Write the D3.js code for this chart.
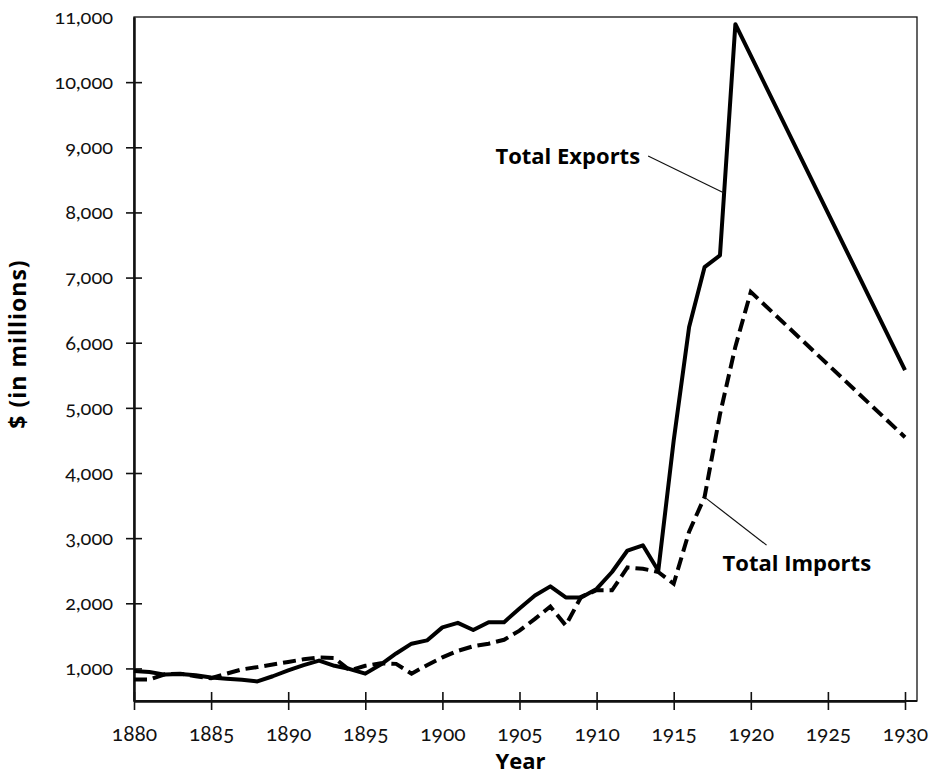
<!DOCTYPE html>
<html>
<head>
<meta charset="utf-8">
<script src="https://cdn.jsdelivr.net/npm/d3@7"></script>
<style>
  body { margin: 0; background: #fff; }
  .tick text { font-family: Lato, "Open Sans", sans-serif; font-variant-numeric: oldstyle-nums; font-feature-settings: "onum" 1; }
</style>
</head>
<body>
<svg id="chart"></svg>
<script>
// US total exports / imports, $ millions
const exportYears = [1880, 1881, 1882, 1883, 1884, 1885, 1886, 1887, 1888, 1889,
  1890, 1891, 1892, 1893, 1894, 1895, 1896, 1897, 1898, 1899,
  1900, 1901, 1902, 1903, 1904, 1905, 1906, 1907, 1908, 1909,
  1910, 1911, 1912, 1913, 1914, 1915, 1916, 1917, 1918, 1919, 1930];
const exportValues = [960, 945, 905, 915, 895, 860, 840, 825, 800, 880,
  970, 1050, 1120, 1040, 990, 920, 1060, 1230, 1380, 1430,
  1630, 1700, 1590, 1710, 1710, 1920, 2120, 2260, 2090, 2090,
  2220, 2480, 2810, 2890, 2500, 4500, 6240, 7160, 7340, 10890, 5580];

const importYears = [1880, 1881, 1882, 1883, 1884, 1885, 1886, 1887, 1888, 1889,
  1890, 1891, 1892, 1893, 1894, 1895, 1896, 1897, 1898, 1899,
  1900, 1901, 1902, 1903, 1904, 1905, 1906, 1907, 1908, 1909,
  1910, 1911, 1912, 1913, 1914, 1915, 1916, 1917, 1918, 1919, 1920, 1930];
const importValues = [830, 830, 910, 920, 880, 850, 920, 985, 1020, 1060,
  1100, 1140, 1170, 1160, 970, 1040, 1080, 1070, 920, 1050,
  1170, 1270, 1340, 1380, 1440, 1580, 1760, 1950, 1660, 2100,
  2200, 2200, 2550, 2530, 2480, 2300, 3100, 3630, 4900, 5940, 6780, 4550];

const xTicks = [1880, 1885, 1890, 1895, 1900, 1905, 1910, 1915, 1920, 1925, 1930];
const yTicks = [1000, 2000, 3000, 4000, 5000, 6000, 7000, 8000, 9000, 10000, 11000];

const margin = { top: 17, right: 15, bottom: 75, left: 134 };
const width = 931 - margin.left - margin.right;
const height = 776 - margin.top - margin.bottom;
const plotRight = 771; // where 1930 falls

const svg = d3.select('#chart')
  .attr('width', 931)
  .attr('height', 776)
  .append('g')
    .attr('transform', `translate(${margin.left},${margin.top})`);

const x = d3.scaleLinear().domain([1880, 1930]).range([0, plotRight]);
const y = d3.scaleLinear().domain([500, 11000]).range([height, 0]);

// frame (top + right edges)
svg.append('rect')
  .attr('x', 0).attr('y', 0)
  .attr('width', width + 1).attr('height', height)
  .attr('fill', 'none')
  .attr('stroke', '#111')
  .attr('stroke-width', 1.3);

// y axis: labels outside, ticks cross the line
const yAxis = svg.append('g')
  .call(d3.axisLeft(y).tickValues(yTicks).tickSize(8).tickSizeOuter(0)
    .tickFormat(d3.format(',')));
yAxis.call(g => g.selectAll('.tick').filter(d => d === 11000).select('line').remove());
svg.append('g')
  .call(d3.axisRight(y).tickValues(yTicks.slice(0, -1)).tickSize(8).tickSizeOuter(0).tickFormat(''));

const xAxis = svg.append('g')
  .attr('transform', `translate(0,${height})`)
  .call(d3.axisBottom(x).tickValues(xTicks).tickSize(9).tickSizeOuter(0).tickFormat(d3.format('d')));
svg.append('g')
  .attr('transform', `translate(0,${height})`)
  .call(d3.axisTop(x).tickValues(xTicks).tickSize(9).tickSizeOuter(0).tickFormat(''));

svg.selectAll('.domain').attr('stroke', '#111').attr('stroke-width', 2);
svg.selectAll('.tick line').attr('stroke', '#111').attr('stroke-width', 1.6);
yAxis.selectAll('.tick text')
  .attr('x', -21)
  .style('font-size', '20px')
  .attr('fill', '#111');
xAxis.selectAll('.tick text')
  .attr('y', 25)
  .style('font-size', '21px')
  .attr('fill', '#111');

// bottom frame line runs past 1930 to the right edge
svg.append('line')
  .attr('x1', 0).attr('x2', width + 1)
  .attr('y1', height).attr('y2', height)
  .attr('stroke', '#111').attr('stroke-width', 2);

// axis titles
svg.append('text')
  .attr('x', plotRight / 2 + 1)
  .attr('y', height + 68)
  .attr('text-anchor', 'middle')
  .style('font-family', '"Open Sans", sans-serif')
  .style('font-weight', 700)
  .style('font-size', '22px')
  .text('Year');

svg.append('text')
  .attr('transform', 'rotate(-90)')
  .attr('x', -(344 - margin.top))
  .attr('y', -108)
  .attr('text-anchor', 'middle')
  .style('font-family', '"Open Sans", sans-serif')
  .style('font-weight', 700)
  .style('font-size', '23px')
  .style('letter-spacing', '1px')
  .text('$ (in millions)');

// lines
const line = d3.line()
  .x(d => x(d[0]))
  .y(d => y(d[1]));

const exportsData = exportYears.map((yr, i) => [yr, exportValues[i]]);
const importsData = importYears.map((yr, i) => [yr, importValues[i]]);

svg.append('path')
  .datum(importsData)
  .attr('fill', 'none')
  .attr('stroke', '#000')
  .attr('stroke-width', 4)
  .attr('stroke-dasharray', '13,6')
  .attr('d', line);

svg.append('path')
  .datum(exportsData)
  .attr('fill', 'none')
  .attr('stroke', '#000')
  .attr('stroke-width', 4)
  .attr('stroke-linejoin', 'round')
  .attr('d', line);

// labels with leader lines
const i18 = exportYears.indexOf(1918);
const t = 0.27;
const expTarget = [
  x(exportYears[i18] + t * (exportYears[i18 + 1] - exportYears[i18])),
  y(exportValues[i18] + t * (exportValues[i18 + 1] - exportValues[i18]))
];
const impTarget = [x(1917), y(importValues[importYears.indexOf(1917)])];

const labelOffsets = {
  'Total Exports': { dx: -84, dy: -29, lx: -76, ly: -37, anchor: 'end', target: expTarget },
  'Total Imports': { dx: 18, dy: 74, lx: 62, ly: 48, anchor: 'start', target: impTarget }
};

Object.entries(labelOffsets).forEach(([name, o]) => {
  svg.append('line')
    .attr('x1', o.target[0] + o.lx).attr('y1', o.target[1] + o.ly)
    .attr('x2', o.target[0]).attr('y2', o.target[1])
    .attr('stroke', '#111')
    .attr('stroke-width', 1.2);

  svg.append('text')
    .attr('x', o.target[0] + o.dx)
    .attr('y', o.target[1] + o.dy)
    .attr('text-anchor', o.anchor)
    .style('font-family', '"Open Sans", sans-serif')
    .style('font-weight', 700)
    .style('font-size', '22px')
    .text(name);
});
</script>
</body>
</html>
